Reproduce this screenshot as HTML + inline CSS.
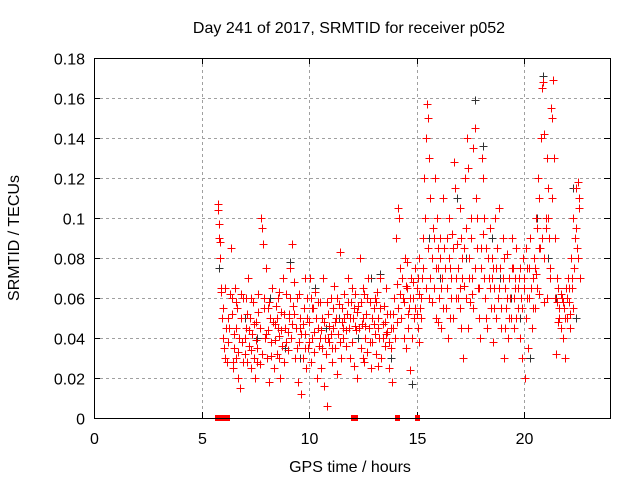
<!DOCTYPE html>
<html><head><meta charset="utf-8"><style>
body{margin:0;background:#fff}
svg text{font-family:"Liberation Sans",sans-serif;font-size:16px;fill:#000}
</style></head><body>
<svg id="chart" width="640" height="480" xmlns="http://www.w3.org/2000/svg">
<rect width="640" height="480" fill="#fff"/>
<text x="349" y="33" text-anchor="middle">Day 241 of 2017, SRMTID for receiver p052</text>
<text x="350" y="472" text-anchor="middle">GPS time / hours</text>
<text transform="translate(19,238) rotate(-90)" text-anchor="middle">SRMTID / TECUs</text>
<g id="grid"></g>
<g id="ticks"></g>
<g id="blk"></g>
<g id="red"></g>
<rect x="94.5" y="58.5" width="516" height="360" fill="none" stroke="#000" stroke-width="1"/>
</svg>
<script>
const xTicks=[0,5,10,15,20];
const yTicks=[0,0.02,0.04,0.06,0.08,0.1,0.12,0.14,0.16,0.18];
const yLabels=["0","0.02","0.04","0.06","0.08","0.1","0.12","0.14","0.16","0.18"];
const zeroT=[5.7,5.85,6.05,6.2,12.05,12.15,14.1,15.0];
const blackData=[[5.8,0.075],[6.3,0.045],[7.0,0.05],[7.6,0.04],[8.2,0.06],[8.9,0.035],[9.1,0.078],[9.6,0.03],[10.3,0.065],[10.8,0.045],[11.4,0.05],[12.3,0.04],[12.9,0.07],[13.3,0.072],[13.8,0.03],[14.3,0.05],[14.8,0.017],[15.2,0.06],[15.6,0.09],[16.1,0.07],[16.5,0.1],[16.9,0.11],[17.3,0.08],[17.7,0.159],[18.1,0.136],[18.5,0.09],[18.9,0.07],[19.4,0.06],[19.8,0.05],[20.3,0.03],[20.6,0.1],[20.9,0.171],[21.1,0.08],[21.5,0.06],[21.9,0.05],[22.3,0.115],[22.4,0.05]];
const redData=[
[5.75,0.107],[5.78,0.104],[5.8,0.097],[5.82,0.09],[5.85,0.088],[5.88,0.08],[5.9,0.065],[5.92,0.063],[5.95,0.05],[6.0,0.04],[6.05,0.035],[6.1,0.03],[6.2,0.028],[6.25,0.05],[6.3,0.045],[6.35,0.085],[6.4,0.06],[6.45,0.025],[6.5,0.035],[6.55,0.065],[6.6,0.03],[6.65,0.055],[6.7,0.02],[6.75,0.04],[6.8,0.015],[6.85,0.05],[6.9,0.038],[6.95,0.06],[7.0,0.032],[7.05,0.045],[7.1,0.028],[7.15,0.07],[7.2,0.036],[7.25,0.05],[7.3,0.025],[7.35,0.042],[7.4,0.058],[7.45,0.03],[7.5,0.02],[7.55,0.048],[7.6,0.035],[7.65,0.062],[7.7,0.027],[7.75,0.1],[7.8,0.095],[7.85,0.087],[7.9,0.055],[7.95,0.04],[8.0,0.075],[8.05,0.03],[8.1,0.044],[8.15,0.018],[8.2,0.05],[8.25,0.038],[8.3,0.065],[8.35,0.025],[8.4,0.047],[8.45,0.056],[8.5,0.032],[8.55,0.06],[8.6,0.041],[8.65,0.02],[8.7,0.053],[8.75,0.036],[8.8,0.07],[8.85,0.028],[8.9,0.045],[8.95,0.062],[9.0,0.034],[9.05,0.05],[9.1,0.075],[9.15,0.04],[9.2,0.087],[9.25,0.056],[9.3,0.068],[9.35,0.03],[9.4,0.045],[9.45,0.06],[9.5,0.018],[9.55,0.038],[9.6,0.05],[9.65,0.012],[9.7,0.03],[9.75,0.055],[9.8,0.042],[9.85,0.025],[9.9,0.06],[9.95,0.035],[10.0,0.048],[10.05,0.07],[10.1,0.028],[10.15,0.04],[10.2,0.055],[10.25,0.033],[10.3,0.063],[10.35,0.02],[10.4,0.045],[10.45,0.036],[10.5,0.058],[10.55,0.025],[10.6,0.05],[10.65,0.07],[10.7,0.016],[10.75,0.04],[10.8,0.032],[10.85,0.006],[10.9,0.052],[10.95,0.038],[11.0,0.06],[11.05,0.028],[11.1,0.045],[11.15,0.066],[11.2,0.035],[11.25,0.05],[11.3,0.022],[11.35,0.042],[11.4,0.057],[11.45,0.083],[11.5,0.03],[11.55,0.048],[11.6,0.04],[11.65,0.062],[11.7,0.036],[11.75,0.052],[11.8,0.07],[11.85,0.045],[11.9,0.03],[11.95,0.058],[12.0,0.038],[12.05,0.05],[12.1,0.026],[12.15,0.062],[12.2,0.044],[12.25,0.02],[12.3,0.056],[12.35,0.08],[12.4,0.035],[12.45,0.047],[12.5,0.065],[12.55,0.028],[12.6,0.04],[12.65,0.052],[12.7,0.033],[12.75,0.07],[12.8,0.045],[12.85,0.058],[12.9,0.025],[12.95,0.038],[13.0,0.055],[13.05,0.042],[13.1,0.032],[13.15,0.063],[13.2,0.05],[13.25,0.04],[13.3,0.07],[13.35,0.03],[13.45,0.047],[13.5,0.056],[13.55,0.036],[13.6,0.065],[13.65,0.043],[13.7,0.025],[13.75,0.052],[13.8,0.035],[13.85,0.018],[13.9,0.045],[13.95,0.06],[14.05,0.09],[14.1,0.067],[14.15,0.105],[14.2,0.1],[14.25,0.075],[14.3,0.05],[14.35,0.06],[14.4,0.04],[14.45,0.08],[14.5,0.035],[14.55,0.065],[14.6,0.045],[14.65,0.055],[14.7,0.024],[14.75,0.07],[14.8,0.04],[14.85,0.06],[14.9,0.05],[14.95,0.075],[15.0,0.065],[15.05,0.045],[15.1,0.08],[15.15,0.055],[15.2,0.06],[15.25,0.07],[15.3,0.09],[15.35,0.12],[15.4,0.1],[15.45,0.14],[15.5,0.157],[15.55,0.15],[15.6,0.13],[15.65,0.11],[15.7,0.08],[15.75,0.095],[15.8,0.065],[15.85,0.12],[15.9,0.05],[15.95,0.1],[16.0,0.075],[16.05,0.06],[16.1,0.09],[16.15,0.045],[16.2,0.07],[16.25,0.11],[16.3,0.085],[16.35,0.055],[16.4,0.065],[16.45,0.04],[16.5,0.1],[16.55,0.075],[16.6,0.06],[16.65,0.092],[16.7,0.05],[16.75,0.128],[16.8,0.115],[16.85,0.07],[16.9,0.087],[16.95,0.06],[17.0,0.105],[17.05,0.045],[17.1,0.08],[17.15,0.03],[17.2,0.066],[17.25,0.12],[17.3,0.095],[17.35,0.14],[17.4,0.125],[17.45,0.08],[17.5,0.058],[17.55,0.1],[17.6,0.07],[17.65,0.135],[17.7,0.145],[17.75,0.11],[17.8,0.085],[17.85,0.065],[17.9,0.05],[17.95,0.04],[18.0,0.075],[18.05,0.13],[18.1,0.12],[18.15,0.1],[18.2,0.06],[18.25,0.085],[18.3,0.045],[18.35,0.07],[18.4,0.095],[18.45,0.055],[18.5,0.08],[18.55,0.038],[18.6,0.065],[18.65,0.1],[18.7,0.05],[18.75,0.085],[18.8,0.06],[18.85,0.105],[18.9,0.075],[18.95,0.045],[19.0,0.09],[19.05,0.03],[19.1,0.065],[19.15,0.055],[19.2,0.082],[19.25,0.04],[19.3,0.07],[19.35,0.06],[19.4,0.05],[19.45,0.09],[19.5,0.075],[19.55,0.045],[19.6,0.065],[19.65,0.085],[19.7,0.055],[19.75,0.07],[19.8,0.04],[19.85,0.06],[19.9,0.03],[19.95,0.08],[20.0,0.065],[20.05,0.02],[20.1,0.05],[20.15,0.075],[20.2,0.035],[20.25,0.06],[20.3,0.09],[20.35,0.045],[20.4,0.07],[20.45,0.08],[20.5,0.055],[20.55,0.1],[20.6,0.095],[20.65,0.12],[20.7,0.11],[20.75,0.085],[20.8,0.14],[20.85,0.165],[20.9,0.168],[20.95,0.142],[21.0,0.1],[21.05,0.13],[21.1,0.115],[21.15,0.09],[21.2,0.075],[21.25,0.155],[21.3,0.15],[21.35,0.169],[21.4,0.13],[21.45,0.06],[21.5,0.032],[21.55,0.07],[21.6,0.065],[21.65,0.05],[21.7,0.045],[21.75,0.06],[21.8,0.04],[21.85,0.055],[21.9,0.03],[21.95,0.065],[22.0,0.05],[22.05,0.07],[22.1,0.058],[22.15,0.045],[22.2,0.08],[22.25,0.065],[22.3,0.1],[22.35,0.09],[22.4,0.115],[22.45,0.085],[22.5,0.118],[22.55,0.105],[22.6,0.07],[22.3,0.055],[20.95,0.058],[20.7,0.062],[17.0,0.065],[17.4,0.045],[16.0,0.048],[15.1,0.038],[12.5,0.03],[9.8,0.07],[8.6,0.03],[7.3,0.06],[6.6,0.045],[10.9,0.04],[13.2,0.026]
];
const redData2=[
[6.02,0.055],[6.12,0.045],[6.22,0.038],[6.32,0.062],[6.42,0.052],[6.52,0.042],[6.62,0.058],[6.72,0.033],[6.82,0.062],[6.92,0.028],[7.02,0.04],[7.12,0.052],[7.22,0.044],[7.32,0.034],[7.42,0.047],[7.52,0.039],[7.62,0.053],[7.72,0.045],[7.82,0.032],[7.92,0.06],[8.02,0.042],[8.12,0.058],[8.22,0.031],[8.32,0.048],[8.42,0.039],[8.52,0.05],[8.62,0.063],[8.72,0.044],[8.82,0.052],[8.92,0.038],[9.02,0.043],[9.12,0.06],[9.22,0.047],[9.32,0.052],[9.42,0.035],[9.52,0.062],[9.62,0.042],[9.72,0.047],[9.82,0.035],[9.92,0.05],[10.02,0.038],[10.12,0.055],[10.22,0.043],[10.32,0.05],[10.42,0.058],[10.52,0.04],[10.62,0.035],[10.72,0.048],[10.82,0.058],[10.92,0.046],[11.02,0.042],[11.12,0.055],[11.22,0.048],[11.32,0.06],[11.42,0.038],[11.52,0.055],[11.62,0.05],[11.72,0.044],[11.82,0.058],[11.92,0.05],[12.02,0.065],[12.12,0.046],[12.22,0.053],[12.32,0.045],[12.42,0.058],[12.52,0.05],[12.62,0.046],[12.72,0.06],[12.82,0.038],[12.92,0.05],[13.02,0.047],[13.12,0.058],[13.22,0.045],[13.32,0.055],[13.42,0.04],[13.52,0.048],[13.62,0.052],[13.72,0.038],[13.82,0.045],[13.92,0.052],[14.02,0.04],[14.12,0.055],[14.22,0.062],[14.32,0.07],[14.42,0.058],[14.52,0.066],[14.62,0.052],[14.72,0.06],[14.82,0.068],[14.92,0.055],[15.02,0.052],[15.12,0.062],[15.22,0.05],[15.32,0.075],[15.42,0.065],[15.52,0.085],[15.62,0.07],[15.72,0.058],[15.82,0.09],[15.92,0.075],[16.02,0.085],[16.12,0.065],[16.22,0.055],[16.32,0.075],[16.42,0.09],[16.52,0.08],[16.62,0.07],[16.72,0.085],[16.82,0.06],[16.92,0.075],[17.02,0.055],[17.12,0.07],[17.22,0.085],[17.32,0.06],[17.42,0.07],[17.52,0.09],[17.62,0.055],[17.72,0.075],[17.82,0.1],[17.92,0.065],[18.02,0.085],[18.12,0.07],[18.22,0.05],[18.32,0.08],[18.42,0.065],[18.52,0.07],[18.62,0.055],[18.72,0.075],[18.82,0.065],[18.92,0.055],[19.02,0.07],[19.12,0.045],[19.22,0.06],[19.32,0.05],[19.42,0.075],[19.52,0.06],[19.62,0.05],[19.72,0.065],[19.82,0.075],[19.92,0.055],[20.02,0.07],[20.12,0.06],[20.22,0.075],[20.32,0.065],[20.42,0.055],[20.52,0.075],[20.62,0.065],[20.72,0.085],[20.82,0.09],[20.92,0.08],[21.02,0.095],[21.12,0.1],[21.22,0.07],[21.32,0.11],[21.42,0.09],[21.52,0.058],[21.62,0.055],[21.72,0.062],[21.82,0.058],[21.92,0.05],[22.02,0.06],[22.12,0.052],[22.22,0.07],[22.32,0.075],[22.42,0.095],[22.52,0.08],[22.57,0.11],[6.08,0.065],[6.48,0.028],[7.08,0.06],[7.58,0.028],[8.08,0.055],[8.58,0.045],[9.08,0.052],[9.58,0.045],[10.08,0.06],[10.58,0.044],[11.08,0.035],[11.58,0.045],[12.08,0.055],[12.58,0.062],[13.08,0.06],[13.58,0.042],[14.08,0.048],[14.58,0.078],[15.08,0.07],[15.58,0.06],[16.08,0.08],[16.58,0.05],[17.08,0.09],[17.58,0.062],[18.08,0.092],[18.58,0.075],[19.08,0.08],[19.58,0.07],[20.08,0.085],[20.58,0.072],[21.08,0.06],[21.58,0.048],[22.08,0.065]
];
const ns="http://www.w3.org/2000/svg";
const X0=94,X1=610,Y0=418,Y1=58;
const xs=t=>X0+(t/24)*(X1-X0);
const ys=v=>Y0-(v/0.18)*(Y0-Y1);
function mk(tag,attrs,parent){const e=document.createElementNS(ns,tag);for(const k in attrs)e.setAttribute(k,attrs[k]);parent.appendChild(e);return e;}
const grid=document.getElementById('grid'),ticks=document.getElementById('ticks');
xTicks.forEach(t=>{
  const x=Math.round(xs(t))+0.5;
  if(t>0){const g=mk('line',{x1:x,x2:x,y1:Y1,y2:Y0,stroke:'#a0a0a0','stroke-dasharray':'3,3'},grid);
  
  }
  mk('line',{x1:x,x2:x,y1:Y0,y2:Y0-6,stroke:'#000'},ticks);
  mk('line',{x1:x,x2:x,y1:Y1,y2:Y1+6,stroke:'#000'},ticks);
  const l=mk('text',{x:x,y:Y0+26,'text-anchor':'middle'},ticks);l.textContent=t;
  
  
});
yTicks.forEach((v,i)=>{
  const y=Math.round(ys(v))+0.5;
  if(i>0&&i<yTicks.length-1){const g=mk('line',{x1:X0,x2:X1,y1:y,y2:y,stroke:'#a0a0a0','stroke-dasharray':'3,3'},grid);
  
  }
  mk('line',{x1:X0,x2:X0+6,y1:y,y2:y,stroke:'#000'},ticks);
  mk('line',{x1:X1,x2:X1-6,y1:y,y2:y,stroke:'#000'},ticks);
  const l=mk('text',{x:X0-9,y:y+6,'text-anchor':'end'},ticks);l.textContent=yLabels[i];
  
  
});
function cross(t,v,col,parent,name){
  const x=Math.round(xs(t))+0.5,y=Math.round(ys(v))+0.5;
  const p=mk('path',{d:`M${x-4},${y}H${x+4}M${x},${y-4}V${y+4}`,stroke:col,'stroke-width':1,fill:'none'},parent);
  
  
}
const blk=document.getElementById('blk'),red=document.getElementById('red');
blackData.forEach(d=>cross(d[0],d[1],'#333',blk,'black-point'));
redData.forEach(d=>cross(d[0],d[1],'#ff0000',red,'red-point'));
redData2.forEach(d=>cross(d[0],d[1],'#ff0000',red,'red-point'));
zeroT.forEach(t=>{
  const r=mk('rect',{x:Math.round(xs(t))-2,y:Y0-3,width:5,height:6,fill:'#ff0000'},red);
  
  
});
</script>
</body></html>
